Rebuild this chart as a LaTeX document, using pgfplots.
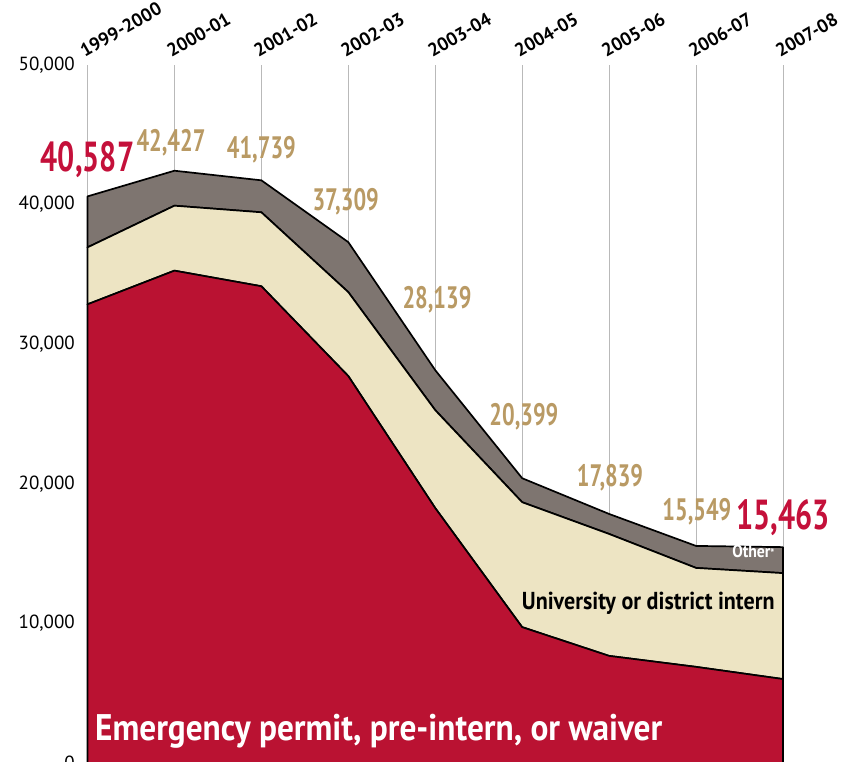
\documentclass[border=0pt]{standalone}
\usepackage{pgfplots}
\pgfplotsset{compat=1.18}
\usepackage{fontspec}
\setmainfont{PT Sans}
\newfontfamily\cond[FakeStretch=0.72]{PT Sans}
\newfontfamily\condt[FakeStretch=0.9]{PT Sans}
\definecolor{redA}{HTML}{BA1232}
\definecolor{tanA}{HTML}{EDE4C3}
\definecolor{grayA}{HTML}{7E7570}
\definecolor{tanT}{HTML}{B99A64}
\definecolor{redT}{HTML}{C4103A}
\begin{document}
\begin{tikzpicture}[x=1pt,y=1pt]
\begin{axis}[
  at={(0,0)}, anchor=south west,
  scale only axis, width=695.5pt, height=698pt,
  xmin=0, xmax=8, ymin=0, ymax=50000,
  stack plots=y,
  axis line style={draw=none},
  major tick length=0pt,
  xtick={0,...,8},
  xticklabels={1999-2000,2000-01,2001-02,2002-03,2003-04,2004-05,2005-06,2006-07,2007-08},
  xticklabel pos=right,
  xticklabel style={rotate=30, anchor=south west, inner sep=0pt, yshift=7pt, xshift=1pt, font=\fontsize{18.5}{18.5}\selectfont\bfseries},
  xmajorgrids, grid style={gray!55, line width=0.9pt},
  ytick={0,10000,20000,30000,40000,50000},
  scaled y ticks=false,
  yticklabel style={inner sep=0pt, xshift=-12.5pt, font=\fontsize{19}{19}\selectfont, /pgf/number format/1000 sep={,}, /pgf/number format/assume math mode=true},
  clip=false,
]
\addplot[fill=redA, draw=black, line width=1.7pt, line join=round] coordinates {
(0,32857) (1,35269) (2,34152) (3,27717) (4,18261) (5,9733) (6,7674) (7,6887) (8,6014)} \closedcycle;
\addplot[fill=tanA, draw=black, line width=1.7pt, line join=round] coordinates {
(0,4080) (1,4653) (2,5297) (3,6013) (4,7015) (5,8948) (6,8733) (7,7087) (8,7588)} \closedcycle;
\addplot[fill=grayA, draw=black, line width=1.7pt, line join=round] coordinates {
(0,3650) (1,2505) (2,2290) (3,3579) (4,2863) (5,1718) (6,1432) (7,1575) (8,1861)} \closedcycle;

\coordinate (L1) at (axis cs:0,43195);
\coordinate (L2) at (axis cs:0.96,44410);
\coordinate (L3) at (axis cs:2.0,43910);
\coordinate (L4) at (axis cs:2.97,40190);
\coordinate (L5) at (axis cs:4.02,33170);
\coordinate (L6) at (axis cs:5.02,24790);
\coordinate (L7) at (axis cs:6.01,20420);
\coordinate (L8) at (axis cs:7.01,17980);
\coordinate (L9) at (axis cs:8.0,17550);
\coordinate (LO) at (axis cs:7.66,15180);
\coordinate (LU) at (axis cs:6.45,11460);
\coordinate (LE) at (axis cs:3.35,2300);
\end{axis}
\node[text=redT, font=\fontsize{42}{42}\selectfont\cond\bfseries] at (L1) {40,587};
\node[text=tanT, font=\fontsize{31}{31}\selectfont\cond\bfseries] at (L2) {42,427};
\node[text=tanT, font=\fontsize{31}{31}\selectfont\cond\bfseries] at (L3) {41,739};
\node[text=tanT, font=\fontsize{31}{31}\selectfont\cond\bfseries] at (L4) {37,309};
\node[text=tanT, font=\fontsize{31}{31}\selectfont\cond\bfseries] at (L5) {28,139};
\node[text=tanT, font=\fontsize{31}{31}\selectfont\cond\bfseries] at (L6) {20,399};
\node[text=tanT, font=\fontsize{31}{31}\selectfont\cond\bfseries] at (L7) {17,839};
\node[text=tanT, font=\fontsize{31}{31}\selectfont\cond\bfseries] at (L8) {15,549};
\node[text=redT, font=\fontsize{42}{42}\selectfont\cond\bfseries] at (L9) {15,463};
\node[text=white, font=\fontsize{17.5}{17.5}\selectfont\condt\bfseries] at (LO) {Other{\large*}};
\node[text=black, font=\fontsize{24.5}{24.5}\selectfont\condt\bfseries] at (LU) {University or district intern};
\node[text=white, font=\fontsize{37}{37}\selectfont\condt\bfseries] at (LE) {Emergency permit, pre-intern, or waiver};
\pgfresetboundingbox
\useasboundingbox (-87.5,2) rectangle (763.5,763);
\end{tikzpicture}
\end{document}
